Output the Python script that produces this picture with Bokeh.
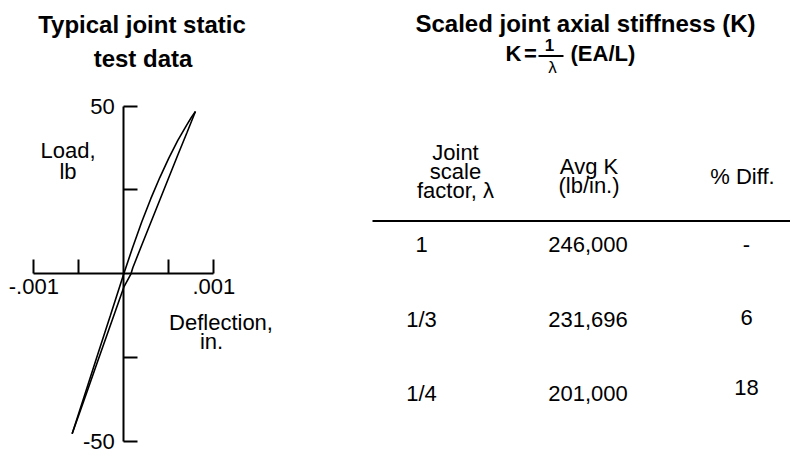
from bokeh.plotting import figure
from bokeh.models import Label, BoxAnnotation, FixedTicker, Range1d
from bokeh.embed import file_html
from bokeh.resources import INLINE

# ---------------- data ----------------
# loading branch (upper / left side of the loop): deflection (in.), load (lb)
load_x = [-0.000574, -0.00045, -0.0003, -0.00015, 0.0, 0.0001, 0.0002,
          0.0003, 0.0004, 0.0005, 0.0006, 0.0007, 0.00075, 0.000796]
load_y = [-47.7, -37.4, -24.9, -12.5, 0.0, 8.0, 15.5,
          22.4, 28.7, 34.5, 39.8, 44.4, 46.6, 48.4]
# unloading branch (lower / right side of the loop)
unload_x = [0.000796, 0.0007, 0.0006, 0.0005, 0.0004, 0.0003, 0.0002,
            0.0001, 0.00008, 0.0, -0.0001, -0.0002, -0.0003, -0.0004,
            -0.0005, -0.000574]
unload_y = [48.4, 42.0, 35.4, 28.7, 22.0, 15.3, 8.6,
            1.8, 0.0, -4.0, -11.6, -19.2, -26.8, -34.5,
            -42.1, -47.7]

x_major_ticks = [-0.001, 0.001]
x_minor_ticks = [-0.0005, 0.0005]
x_tick_labels = {-0.001: "-.001", 0.001: ".001"}
y_major_ticks = [-50, 50]
y_minor_ticks = [-25, 25]
y_tick_labels = {-50: "-50", 50: "50"}

scale_factors = ["1", "1/3", "1/4"]
avg_k = [246000, 231696, 201000]
pct_diff = ["-", "6", "18"]

# ---------------- layout ----------------
W, H = 790, 460
Y_AXIS_PX = 123.3      # page x of the load axis
X_AXIS_PY = 273.3      # page y of the deflection axis
PX_PER_IN = 90000.0
PX_PER_LB = 3.354

x0 = -Y_AXIS_PX / PX_PER_IN
x1 = (W - Y_AXIS_PX) / PX_PER_IN
y1 = X_AXIS_PY / PX_PER_LB
y0 = -(H - X_AXIS_PY) / PX_PER_LB

FONT = "Liberation Sans"

p = figure(width=W, height=H, x_range=Range1d(x0, x1), y_range=Range1d(y0, y1),
           output_backend="svg", toolbar_location=None, min_border=0)
p.grid.visible = False
p.outline_line_color = None
p.background_fill_color = "white"
p.border_fill_color = "white"

for ax in (p.xaxis[0], p.yaxis[0]):
    ax.fixed_location = 0
    ax.axis_line_width = 2
    ax.axis_line_color = "black"
    ax.major_tick_line_width = 2
    ax.minor_tick_line_width = 2
    ax.major_tick_line_color = "black"
    ax.minor_tick_line_color = "black"
    ax.major_tick_in = 14
    ax.major_tick_out = 0
    ax.minor_tick_in = 14
    ax.minor_tick_out = 0
    ax.major_label_text_font = FONT
    ax.major_label_text_font_size = "22px"
    ax.major_label_text_color = "black"

p.xaxis.ticker = FixedTicker(ticks=x_major_ticks, minor_ticks=x_minor_ticks)
p.xaxis.bounds = (x_major_ticks[0], x_major_ticks[-1])
p.xaxis.major_label_overrides = x_tick_labels
p.xaxis.major_label_standoff = 5

p.yaxis.ticker = FixedTicker(ticks=y_major_ticks, minor_ticks=y_minor_ticks)
p.yaxis.bounds = (y_major_ticks[0], y_major_ticks[-1])
p.yaxis.major_label_overrides = y_tick_labels
p.yaxis.major_label_standoff = 9
p.yaxis.major_label_orientation = "horizontal"

p.line(load_x, load_y, line_color="black", line_width=1.6)
p.line(unload_x, unload_y, line_color="black", line_width=1.6)


def lab(text, x, y, size="22px", bold=False, align="center"):
    # x, y: page pixel position of the text's horizontal anchor / vertical middle
    p.add_layout(Label(x=x, y=H - y, x_units="screen", y_units="screen",
                       text=text, text_font=FONT, text_font_size=size,
                       text_font_style="bold" if bold else "normal",
                       text_align=align, text_baseline="middle", text_color="black"))


def rule(left, right, top, bottom):
    p.add_layout(BoxAnnotation(left=left, right=right, top=H - top, bottom=H - bottom,
                               left_units="screen", right_units="screen",
                               top_units="screen", bottom_units="screen",
                               fill_color="black", fill_alpha=1.0,
                               line_color=None))


# left panel texts
lab("Typical joint static", 141.5, 24, size="24px", bold=True)
lab("test data", 142.5, 58, size="24px", bold=True)
lab("Load,", 67.5, 150)
lab("lb", 67.5, 171)
lab("Deflection,", 220.5, 322)
lab("in.", 211, 341)

# right panel title
lab("Scaled joint axial stiffness (K)", 585, 22.5, size="24px", bold=True)
lab("K", 505, 53, size="22px", bold=True, align="left")
lab("=", 530, 53, size="22px", bold=True)
lab("1", 549, 44, size="17px", bold=True)
rule(538, 563, 54.5, 56.5)
lab("\u03bb", 552, 67, size="17px")
lab("(EA/L)", 570, 53, size="22px", bold=True, align="left")

# table header
COL_X = [455, 588.5, 742]
lab("Joint", COL_X[0], 151.5)
lab("scale", COL_X[0], 170.5)
lab("factor, \u03bb", COL_X[0], 189.5)
lab("Avg K", COL_X[1], 165.5)
lab("(lb/in.)", COL_X[1], 185)
lab("% Diff.", COL_X[2], 176)
rule(372, 790, 219.5, 221.5)

# table rows
ROW_Y = [244, 319, 393]
DIFF_Y = [244, 316.5, 387]
ROW_COL_X = [421, 587.5, 746]
for i in range(len(scale_factors)):
    lab(scale_factors[i], ROW_COL_X[0], ROW_Y[i])
    lab(f"{avg_k[i]:,}", ROW_COL_X[1], ROW_Y[i])
    lab(pct_diff[i], ROW_COL_X[2], DIFF_Y[i])

open("out.html", "w").write(file_html(p, INLINE))
